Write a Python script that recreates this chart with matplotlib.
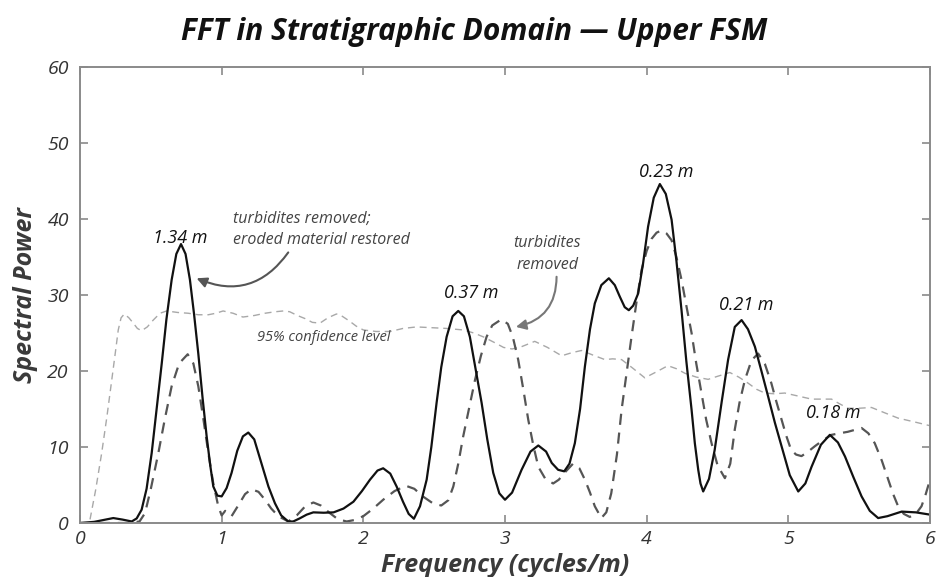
import matplotlib
matplotlib.use("Agg")
import matplotlib.pyplot as plt

# solid: turbidites removed; eroded material restored
freq_restored = [0.00, 0.10, 0.18, 0.235, 0.30, 0.365, 0.40, 0.435, 0.47, 0.506, 0.54, 0.577, 0.61, 0.647, 0.68, 0.713,
                 0.745, 0.776, 0.805, 0.835, 0.865, 0.894, 0.92, 0.941, 0.97, 1.00, 1.035, 1.07, 1.11, 1.15, 1.188,
                 1.23, 1.28, 1.33, 1.376, 1.42, 1.47, 1.505, 1.55, 1.60, 1.647, 1.72, 1.79, 1.86, 1.93, 1.99, 2.047,
                 2.10, 2.14, 2.19, 2.235, 2.28, 2.32, 2.357, 2.40, 2.447, 2.48, 2.517, 2.55, 2.588, 2.63, 2.67, 2.71,
                 2.752, 2.79, 2.835, 2.875, 2.917, 2.96, 3.00, 3.05, 3.117, 3.18, 3.235, 3.29, 3.33, 3.375, 3.418,
                 3.455, 3.493, 3.53, 3.564, 3.60, 3.634, 3.68, 3.733, 3.775, 3.81, 3.845, 3.874, 3.905, 3.94, 3.975,
                 4.01, 4.05, 4.093, 4.135, 4.176, 4.21, 4.246, 4.28, 4.317, 4.34, 4.364, 4.38, 4.399, 4.44, 4.48,
                 4.53, 4.575, 4.622, 4.67, 4.715, 4.764, 4.81, 4.858, 4.905, 4.952, 5.01, 5.07, 5.12, 5.164, 5.23,
                 5.293, 5.35, 5.40, 5.46, 5.517, 5.575, 5.634, 5.70, 5.80, 5.90, 6.00]
power_restored = [0.0, 0.15, 0.45, 0.65, 0.45, 0.2, 0.6, 1.75, 4.5, 9.2, 14.8, 21.0, 26.8, 32.0, 35.4, 36.7,
                  35.4, 32.0, 27.5, 22.3, 16.5, 11.4, 7.5, 4.8, 3.6, 3.5, 4.6, 6.6, 9.5, 11.4, 11.9,
                  11.0, 7.9, 4.8, 2.6, 1.0, 0.2, 0.2, 0.6, 1.1, 1.4, 1.35, 1.4, 1.9, 2.8, 4.2, 5.7,
                  6.9, 7.2, 6.5, 4.8, 2.8, 1.2, 0.56, 2.2, 5.7, 10.0, 15.8, 20.5, 24.5, 27.2, 27.9, 27.2,
                  24.5, 20.5, 15.8, 11.0, 6.6, 3.9, 3.06, 4.0, 7.0, 9.4, 10.2, 9.4, 7.9, 7.0, 6.8,
                  7.8, 10.5, 15.0, 20.6, 25.5, 28.9, 31.3, 32.2, 31.3, 29.8, 28.4, 28.0, 28.6, 30.2, 34.2,
                  39.0, 42.8, 44.6, 43.3, 39.9, 34.5, 28.0, 21.3, 14.9, 10.5, 7.0, 5.2, 4.15, 5.8, 9.6,
                  16.0, 21.5, 25.8, 26.7, 25.5, 23.2, 20.0, 16.6, 13.2, 10.1, 6.3, 4.15, 5.2, 7.4, 10.3,
                  11.6, 10.6, 8.75, 6.0, 3.5, 1.6, 0.65, 0.9, 1.5, 1.4, 1.1]

# dashed: turbidites removed
freq_removed = [0.00, 0.20, 0.35, 0.42, 0.459, 0.50, 0.553, 0.60, 0.647, 0.70, 0.76, 0.80, 0.835, 0.87, 0.906,
                0.94, 0.976, 1.00, 1.025, 1.07, 1.12, 1.165, 1.21, 1.26, 1.306, 1.35, 1.40, 1.47, 1.53, 1.59,
                1.647, 1.70, 1.764, 1.82, 1.882, 1.94, 2.00, 2.07, 2.14, 2.22, 2.30, 2.36, 2.42, 2.49, 2.55,
                2.60, 2.635, 2.67, 2.705, 2.745, 2.788, 2.83, 2.87, 2.91, 2.975, 3.02, 3.055, 3.093, 3.13, 3.164,
                3.20, 3.235, 3.285, 3.34, 3.38, 3.42, 3.48, 3.525, 3.564, 3.60, 3.634, 3.68, 3.715, 3.75, 3.79,
                3.823, 3.86, 3.893, 3.93, 3.964, 4.00, 4.035, 4.07, 4.105, 4.14, 4.176, 4.21, 4.246, 4.28, 4.317,
                4.35, 4.387, 4.42, 4.458, 4.50, 4.552, 4.59, 4.622, 4.655, 4.693, 4.74, 4.787, 4.835, 4.88, 4.915,
                4.952, 4.985, 5.02, 5.055, 5.093, 5.14, 5.187, 5.245, 5.305, 5.36, 5.42, 5.517, 5.565, 5.61, 5.66,
                5.705, 5.74, 5.775, 5.815, 5.857, 5.90, 5.94, 5.97, 6.00]
power_removed = [0.0, 0.0, 0.0, 0.2, 1.3, 4.5, 9.2, 13.8, 18.0, 21.0, 22.2, 21.0, 18.0, 13.8, 9.2,
                 5.3, 2.2, 1.0, 1.6, 0.9, 2.4, 3.8, 4.45, 4.1, 3.06, 1.9, 0.9, 0.2, 1.0, 2.2,
                 2.7, 2.3, 1.3, 0.5, 0.2, 0.4, 0.9, 1.9, 3.06, 4.2, 4.9, 4.5, 3.5, 2.6, 2.3,
                 3.0, 4.8, 7.8, 11.4, 15.0, 18.8, 22.0, 24.5, 26.0, 26.8, 26.2, 24.5, 21.5, 17.5, 13.6,
                 10.2, 7.4, 5.8, 5.2, 5.7, 6.6, 7.8, 7.2, 5.7, 4.0, 2.2, 0.65, 1.4, 3.9, 9.0,
                 14.9, 20.0, 24.5, 29.3, 33.3, 35.8, 37.4, 38.2, 38.5, 38.1, 37.2, 35.0, 32.0, 28.6, 25.0,
                 21.0, 17.1, 13.6, 10.5, 7.6, 5.9, 7.8, 12.3, 15.8, 18.8, 21.4, 22.3, 20.9, 18.4, 16.0,
                 13.6, 11.5, 9.6, 9.0, 8.8, 9.4, 10.1, 10.9, 11.6, 11.8, 12.0, 12.5, 11.8, 10.5, 8.2,
                 5.7, 3.8, 2.2, 1.2, 0.8, 1.2, 2.2, 3.8, 5.7]

# thin dashed: 95% confidence level
freq_conf = [0.00, 0.05, 0.07, 0.11, 0.153, 0.19, 0.224, 0.25, 0.27, 0.29, 0.313, 0.345, 0.376, 0.405, 0.435,
             0.475, 0.517, 0.565, 0.612, 0.69, 0.764, 0.835, 0.905, 0.96, 1.01, 1.08, 1.15, 1.23, 1.306, 1.38,
             1.435, 1.48, 1.535, 1.588, 1.64, 1.694, 1.75, 1.81, 1.835, 1.90, 1.95, 2.00, 2.09, 2.19, 2.28,
             2.376, 2.48, 2.588, 2.705, 2.78, 2.846, 2.92, 2.99, 3.05, 3.117, 3.21, 3.30, 3.40, 3.47, 3.54,
             3.62, 3.705, 3.76, 3.823, 3.90, 3.987, 4.07, 4.15, 4.21, 4.27, 4.35, 4.434, 4.50, 4.587, 4.65,
             4.716, 4.775, 4.834, 4.90, 4.975, 5.07, 5.164, 5.24, 5.305, 5.36, 5.42, 5.50, 5.587, 5.68, 5.775,
             5.89, 6.00]
power_conf = [0.0, 0.0, 0.4, 4.3, 9.2, 14.0, 18.8, 22.5, 25.4, 27.0, 27.5, 27.0, 26.3, 25.6, 25.3,
              25.8, 26.7, 27.6, 27.9, 27.7, 27.6, 27.4, 27.4, 27.6, 27.9, 27.6, 27.1, 27.3, 27.6, 27.8,
              27.9, 27.8, 27.3, 26.9, 26.4, 26.3, 27.0, 27.5, 27.4, 26.6, 25.9, 25.4, 25.2, 25.2, 25.6,
              25.8, 25.7, 25.6, 25.4, 25.0, 24.5, 23.8, 23.1, 22.9, 23.2, 23.9, 23.1, 22.0, 22.4, 22.7,
              22.1, 21.5, 21.6, 21.5, 20.4, 19.1, 19.9, 20.7, 20.3, 19.7, 19.2, 18.9, 19.3, 19.8, 19.2,
              18.4, 17.6, 17.1, 17.0, 17.1, 16.7, 16.3, 16.3, 16.3, 15.7, 15.1, 15.1, 15.2, 14.5, 13.8,
              13.3, 12.8]

peak_labels = ["1.34 m", "0.37 m", "0.23 m", "0.21 m", "0.18 m"]
peak_x = [0.706, 2.764, 4.14, 4.705, 5.316]
peak_y = [36.9, 29.6, 45.5, 28.0, 13.8]

x_ticks = [0, 1, 2, 3, 4, 5, 6]
y_ticks = [0, 10, 20, 30, 40, 50, 60]

body = ["Open Sans", "DejaVu Sans"]
axis_grey = "#8a8a8a"

fig = plt.figure(figsize=(9.36, 5.77), dpi=100)
ax = fig.add_axes([80 / 936, 54 / 577, 850 / 936, 456 / 577])

ax.plot(freq_conf, power_conf, color="#a8a8a8", lw=1.0, dashes=(5, 3.5))
ax.plot(freq_removed, power_removed, color="#555555", lw=1.6, dashes=(5, 3.5))
ax.plot(freq_restored, power_restored, color="#111111", lw=1.6)

ax.set_xlim(0, 6)
ax.set_ylim(0, 60)
ax.set_xticks(x_ticks)
ax.set_yticks(y_ticks)
ax.set_xticklabels([str(t) for t in x_ticks], family=body, style="italic", fontsize=14, color="#333333")
ax.set_yticklabels([str(t) for t in y_ticks], family=body, style="italic", fontsize=14, color="#333333")
ax.tick_params(direction="in", length=6, width=1.2, color=axis_grey, top=True, right=True)
ax.tick_params(axis="x", pad=5)
ax.tick_params(axis="y", pad=8)
for s in ax.spines.values():
    s.set_color(axis_grey)
    s.set_linewidth(1.4)

for lab, px, py in zip(peak_labels, peak_x, peak_y):
    ax.text(px, py, lab, ha="center", va="baseline", family=body, style="italic", fontsize=13, color="#111111")

ax.text(1.08, 38.6, "turbidites removed;\neroded material restored", ha="left", va="center",
        family=body, style="italic", fontsize=11.5, color="#444444", linespacing=1.45)
ax.annotate("", xy=(0.823, 32.2), xytext=(1.47, 35.6),
            arrowprops=dict(arrowstyle="-|>,head_length=0.6,head_width=0.3", color="#555555", lw=1.5,
                            connectionstyle="arc3,rad=-0.4", shrinkA=0, shrinkB=0))

ax.text(3.30, 35.4, "turbidites\nremoved", ha="center", va="center",
        family=body, style="italic", fontsize=11.5, color="#444444", linespacing=1.45)
ax.annotate("", xy=(3.077, 25.8), xytext=(3.364, 32.4),
            arrowprops=dict(arrowstyle="-|>,head_length=0.6,head_width=0.3", color="#777777", lw=1.5,
                            connectionstyle="arc3,rad=-0.4", shrinkA=0, shrinkB=0))

ax.text(1.25, 24.4, "95% confidence level", ha="left", va="center",
        family=body, style="italic", fontsize=10.5, color="#444444")

ax.set_xlabel("Frequency (cycles/m)", family=body, style="italic", weight="bold", fontsize=18,
              color="#3a3a3a", labelpad=4)
ax.set_ylabel("Spectral Power", family=body, style="italic", weight="bold", fontsize=18,
              color="#3a3a3a", labelpad=7)
fig.text(0.507, 0.945, "FFT in Stratigraphic Domain \u2014 Upper FSM", ha="center", va="center",
         family=body, style="italic", weight="bold", fontsize=21.5, color="#111111")

fig.savefig("out.png", dpi=100)
